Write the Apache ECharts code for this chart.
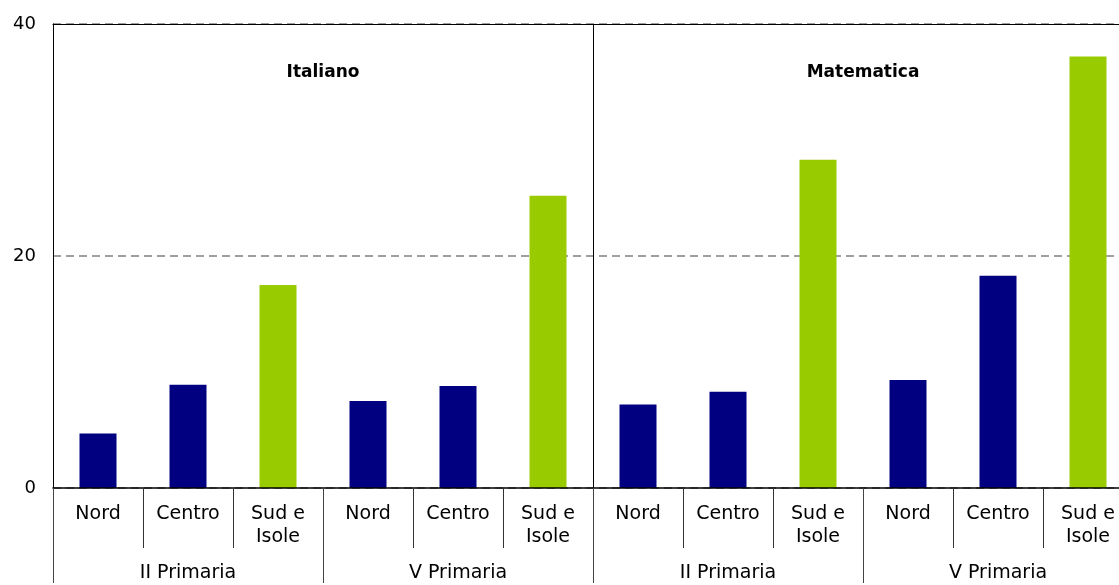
<!DOCTYPE html>
<html>
<head>
<meta charset="utf-8">
<script src="https://cdn.jsdelivr.net/npm/echarts@6/dist/echarts.min.js"></script>
<style>
html,body{margin:0;padding:0;background:#fff;overflow:hidden;}
#chart{width:1140px;height:585px;}
</style>
</head>
<body>
<div id="chart"></div>
<script>
// Data
var subjects = ['Italiano', 'Matematica'];
var grades = ['II Primaria', 'V Primaria', 'II Primaria', 'V Primaria'];
var regions = ['Nord', 'Centro', 'Sud e\nIsole'];
var categories = [
  'Nord', 'Centro', 'Sud e\nIsole',
  'Nord', 'Centro', 'Sud e\nIsole',
  'Nord', 'Centro', 'Sud e\nIsole',
  'Nord', 'Centro', 'Sud e\nIsole'
];
var italianoII = [4.7, 8.9, 17.5];
var italianoV = [7.5, 8.8, 25.2];
var matematicaII = [7.2, 8.3, 28.3];
var matematicaV = [9.3, 18.3, 37.2];
var yTicks = [0, 20, 40];

var navy = '#000080';
var green = '#99CC00';
var values = italianoII.concat(italianoV, matematicaII, matematicaV);
var barData = values.map(function (v, i) {
  return { value: v, itemStyle: { color: categories[i] === 'Sud e\nIsole' ? green : navy } };
});

var font = 'DejaVu Sans';
var chart = echarts.init(document.getElementById('chart'));
chart.setOption({
  animation: false,
  backgroundColor: '#fff',
  grid: { left: 53, top: 24, width: 1080, height: 466, containLabel: false },
  xAxis: [
    {
      type: 'category', data: categories, position: 'bottom', boundaryGap: true, zlevel: 1,
      axisLine: { show: true, lineStyle: { color: '#000', width: 1.5 } },
      axisTick: { show: true, interval: 0, length: 60, lineStyle: { color: '#333', width: 1 } },
      axisLabel: { interval: 0, margin: 15, fontFamily: font, fontSize: 19, lineHeight: 23, color: '#000', align: 'center' },
      splitLine: { show: false }
    },
    {
      type: 'category', data: grades, position: 'bottom', boundaryGap: true, zlevel: 1,
      axisLine: { show: false },
      axisTick: { show: true, interval: 0, length: 95, lineStyle: { color: '#444', width: 1 } },
      axisLabel: { interval: 0, margin: 74, fontFamily: font, fontSize: 19, lineHeight: 23, color: '#000' },
      splitLine: { show: false }
    },
    {
      type: 'category', data: subjects, position: 'top', boundaryGap: true,
      axisLine: { show: true, lineStyle: { color: '#000', width: 1 } },
      axisTick: { show: true, inside: true, interval: 0, length: 466, lineStyle: { color: '#000', width: 1 } },
      axisLabel: { inside: true, interval: 0, margin: 40, fontFamily: font, fontSize: 17, fontWeight: 'bold', color: '#000' },
      splitLine: { show: false }
    }
  ],
  yAxis: {
    type: 'value', min: yTicks[0], max: yTicks[yTicks.length - 1], interval: 20,
    axisLine: { show: true, lineStyle: { color: '#000', width: 1 } },
    axisTick: { show: false },
    axisLabel: { margin: 17, fontFamily: font, fontSize: 18, color: '#000' },
    splitLine: { show: true, lineStyle: { color: '#808080', width: 1.5, type: [8, 5] } }
  },
  series: [{
    type: 'bar', xAxisIndex: 0, data: barData, barWidth: 37, z: 1
  }]
});
</script>
</body>
</html>
